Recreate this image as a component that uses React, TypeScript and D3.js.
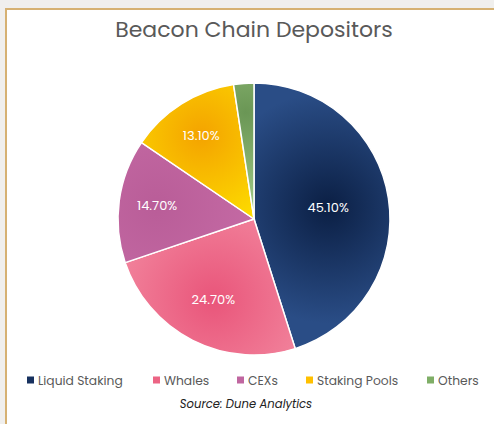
import React from "react";
import * as d3 from "d3";

const categories = ["Liquid Staking", "Whales", "CEXs", "Staking Pools", "Others"];
const values = [45.1, 24.7, 14.7, 13.1, 2.4];
const labels = ["45.10%", "24.70%", "14.70%", "13.10%", ""];
const innerColors = ["#0b1f44", "#e9557a", "#b95d98", "#f4a300", "#6a9655"];
const outerColors = ["#2a4d86", "#f38aa1", "#c66ca6", "#ffe800", "#a9d28d"];
const legendColors = ["#17315f", "#ec6484", "#c066a0", "#ffc000", "#7fae66"];

const W = 494;
const H = 424;

export default function App() {
  const cx = 254;
  const cy = 219;
  const r = 136;
  const pie = d3.pie<number>().sort(null).value((d) => d)(values);
  const arc = d3.arc<d3.PieArcDatum<number>>().innerRadius(0).outerRadius(r);
  const total = d3.sum(values);
  const labelPos = (p: d3.PieArcDatum<number>) => {
    const share = p.value / total;
    const lr = r * (0.8 - share * 0.55);
    return d3.arc<d3.PieArcDatum<number>>().innerRadius(lr).outerRadius(lr).centroid(p);
  };

  const legendX = [27, 153, 237, 306, 427];

  return (
    <svg
      width={W}
      height={H}
      style={{ position: "absolute", left: 0, top: 0, display: "block" }}
      fontFamily="'Poppins', 'Inter', 'Noto Sans', sans-serif"
    >
      <rect x={0} y={0} width={W} height={H} fill="#f0efed" />
      <rect x={6} y={9} width={W} height={H} fill="#ffffff" stroke="#d6b172" strokeWidth={2} />
      <text x={254} y={37} textAnchor="middle" fontSize={22} fill="#595959">
        Beacon Chain Depositors
      </text>
      <g transform={`translate(${cx},${cy})`}>
        <defs>
          {pie.map((p, i) => {
            const [x, y] = labelPos(p);
            return (
              <radialGradient
                key={i}
                id={`g${i}`}
                gradientUnits="userSpaceOnUse"
                cx={x}
                cy={y}
                r={r * 0.85}
              >
                <stop offset="0%" stopColor={innerColors[i]} />
                <stop offset="100%" stopColor={outerColors[i]} />
              </radialGradient>
            );
          })}
        </defs>
        {pie.map((p, i) => (
          <path key={i} d={arc(p) || ""} fill={`url(#g${i})`} stroke="#ffffff" strokeWidth={1.5} />
        ))}
        {pie.map((p, i) => {
          const [x, y] = labelPos(p);
          return (
            <text
              key={i}
              x={x}
              y={y}
              textAnchor="middle"
              dominantBaseline="central"
              fontSize={13}
              fill="#ffffff"
            >
              {labels[i]}
            </text>
          );
        })}
      </g>
      {categories.map((c, i) => (
        <g key={c} transform={`translate(${legendX[i]},380)`}>
          <rect x={0} y={-3.5} width={7} height={7} fill={legendColors[i]} />
          <text x={11} y={0} dominantBaseline="central" fontSize={12.3} fill="#595959">
            {c}
          </text>
        </g>
      ))}
      <text x={246} y={408} textAnchor="middle" fontSize={11.6} fontStyle="italic" fill="#222222">
        Source: Dune Analytics
      </text>
    </svg>
  );
}
